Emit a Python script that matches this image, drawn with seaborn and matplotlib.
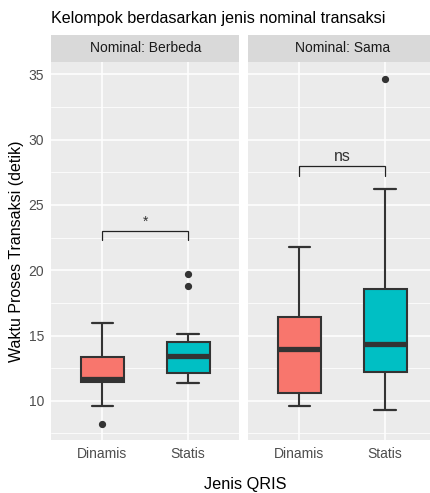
import numpy as np
import pandas as pd
import matplotlib
matplotlib.use("Agg")
import matplotlib.pyplot as plt
import seaborn as sns
from matplotlib.patches import Rectangle

# Data (samples chosen to reproduce the quartiles, whiskers and outliers)
panels = ["Berbeda", "Sama"]
jenis = ["Dinamis", "Statis"]
berbeda_dinamis = [8.25, 9.57, 11.45, 11.6, 11.67, 12.4, 13.33, 14.3, 15.99]
berbeda_statis = [11.37, 11.7, 11.9, 12.15, 12.6, 13.0, 13.42, 13.8, 14.2, 14.54, 15.08, 18.8, 19.75]
sama_dinamis = [9.57, 10.1, 10.6, 12.3, 13.97, 15.1, 16.4, 19.0, 21.8]
sama_statis = [9.32, 10.5, 11.6, 12.2, 12.8, 13.6, 14.35, 15.2, 16.5, 18.55, 21.0, 26.25, 34.65]
signif_labels = ["*", "ns"]
bracket_y = [23.0, 27.95]

rows = []
for panel, groups in zip(panels, [[berbeda_dinamis, berbeda_statis], [sama_dinamis, sama_statis]]):
    for j, vals in zip(jenis, groups):
        for v in vals:
            rows.append({"Nominal": panel, "Jenis": j, "Waktu": v})
df = pd.DataFrame(rows)

sns.set_style("white")
plt.rcParams["font.family"] = ["Liberation Sans", "DejaVu Sans"]

W, H = 431, 493
fig = plt.figure(figsize=(W / 100, H / 100), dpi=100)
fig.patch.set_facecolor("white")

panel_left = [51, 248]
panel_w = 188.5
top, bottom = 62, 440
strip_h = 27
palette = {"Dinamis": "#F8766D", "Statis": "#00BFC4"}

axes = []
for i, panel in enumerate(panels):
    ax = fig.add_axes([panel_left[i] / W, (H - bottom) / H, panel_w / W, (bottom - top) / H])
    ax.set_facecolor("#EBEBEB")
    sub = df[df["Nominal"] == panel]
    sns.boxplot(data=sub, x="Jenis", y="Waktu", hue="Jenis", palette=palette,
                order=jenis, hue_order=jenis, width=0.5, saturation=1, legend=False, ax=ax,
                linecolor="#333333", linewidth=1.5,
                medianprops=dict(color="#333333", linewidth=3.8, solid_capstyle="butt"),
                whiskerprops=dict(color="#333333", linewidth=1.5),
                capprops=dict(color="#333333", linewidth=1.6),
                flierprops=dict(marker="o", markerfacecolor="#333333",
                                markeredgecolor="#333333", markersize=4.2))
    ax.set_xlim(-0.6, 1.6)
    ax.set_ylim(7.0, 35.95)
    # grid lines like ggplot
    for y in [7.5, 12.5, 17.5, 22.5, 27.5, 32.5]:
        ax.axhline(y, color="white", linewidth=0.55, zorder=0)
    for y in [10, 15, 20, 25, 30, 35]:
        ax.axhline(y, color="white", linewidth=1.1, zorder=0)
    for x in [0, 1]:
        ax.axvline(x, color="white", linewidth=1.1, zorder=0)
    ax.set_axisbelow(True)
    for s in ax.spines.values():
        s.set_visible(False)
    ax.set_xlabel("")
    ax.set_ylabel("")
    ax.set_yticks([10, 15, 20, 25, 30, 35])
    ax.tick_params(axis="both", colors="#333333", length=3, width=0.8,
                   labelsize=10, labelcolor="#4D4D4D", pad=2)
    if i == 1:
        ax.tick_params(axis="y", left=False, labelleft=False)

    # strip
    ax.add_patch(Rectangle((0, 1), 1, strip_h / (bottom - top), transform=ax.transAxes,
                           facecolor="#D9D9D9", edgecolor="none", clip_on=False))
    ax.text(0.5 if i == 0 else (342.5 - 248) / panel_w, 1 + strip_h / 2 / (bottom - top),
            "Nominal: " + panel, transform=ax.transAxes, ha="center", va="center",
            fontsize=10, color="#1A1A1A")

    # significance bracket
    yb = bracket_y[i]
    ax.plot([0, 0, 1, 1], [yb - 0.72, yb, yb, yb - 0.72], color="#222222",
            linewidth=0.9, solid_joinstyle="miter", zorder=5)
    ax.text(0.5, yb + 0.2, signif_labels[i], ha="center", va="bottom",
            fontsize=11.5 if signif_labels[i] == "ns" else 10, color="#333333", zorder=5)
    axes.append(ax)

fig.text(51 / W, 1 - 18 / H, "Kelompok berdasarkan jenis nominal transaksi",
         ha="left", va="center", fontsize=11.6, color="black")
fig.text(17 / W, 1 - 251 / H, "Waktu Proses Transaksi (detik)", rotation=90,
         ha="center", va="center", fontsize=11.5, color="black")
fig.text(245 / W, 1 - 484 / H, "Jenis QRIS", ha="center", va="center",
         fontsize=11.7, color="black")

fig.savefig("out.png", dpi=100)
